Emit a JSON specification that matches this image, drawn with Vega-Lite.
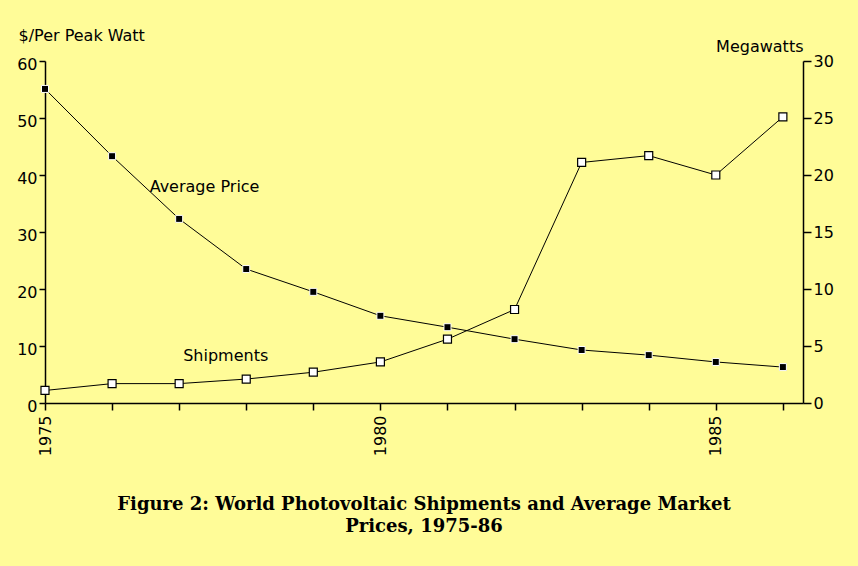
{
  "$schema": "https://vega.github.io/schema/vega-lite/v6.json",
  "width": 758,
  "height": 342,
  "autosize": {"type": "none"},
  "padding": {"left": 45, "top": 61, "right": 55, "bottom": 163},
  "background": "#FFFC98",
  "config": {
    "view": {"stroke": null},
    "font": "DejaVu Sans",
    "axis": {
      "domainColor": "black", "tickColor": "black", "labelColor": "black",
      "labelFont": "DejaVu Sans", "labelFontSize": 16, "grid": false,
      "domainWidth": 1.5, "tickWidth": 1.5,
      "titleFont": "DejaVu Sans", "titleFontWeight": "normal", "titleFontSize": 16, "titleColor": "black"
    }
  },
  "title": {
    "text": ["Figure 2: World Photovoltaic Shipments and Average Market", "Prices, 1975-86"],
    "orient": "bottom", "anchor": "middle", "font": "DejaVu Serif", "fontSize": 18,
    "fontWeight": "bold", "lineHeight": 22, "offset": 40, "color": "black"
  },
  "data": {"values": [
    {"year": 1975, "price": 55.1, "shipments": 1.1},
    {"year": 1976, "price": 43.3, "shipments": 1.7},
    {"year": 1977, "price": 32.3, "shipments": 1.7},
    {"year": 1978, "price": 23.5, "shipments": 2.1},
    {"year": 1979, "price": 19.5, "shipments": 2.7},
    {"year": 1980, "price": 15.3, "shipments": 3.6},
    {"year": 1981, "price": 13.3, "shipments": 5.6},
    {"year": 1982, "price": 11.2, "shipments": 8.2},
    {"year": 1983, "price": 9.3, "shipments": 21.1},
    {"year": 1984, "price": 8.4, "shipments": 21.7},
    {"year": 1985, "price": 7.2, "shipments": 20.0},
    {"year": 1986, "price": 6.3, "shipments": 25.1}
  ]},
  "encoding": {
    "x": {
      "field": "year", "type": "quantitative",
      "scale": {"domain": [1975, 1986.3], "nice": false, "zero": false},
      "axis": {
        "title": null, "values": [1975,1976,1977,1978,1979,1980,1981,1982,1983,1984,1985,1986],
        "labelExpr": "datum.value % 5 == 0 ? datum.value + '' : ''",
        "labelAngle": -90, "tickSize": 7, "labelPadding": 5, "labelFlush": false, "labelOverlap": false
      }
    }
  },
  "layer": [
    {
      "encoding": {
        "y": {
          "field": "price", "type": "quantitative",
          "scale": {"domain": [0, 60], "nice": false},
          "axis": {
            "orient": "left", "values": [0,10,20,30,40,50,60], "title": "$/Per Peak Watt",
            "titleAngle": 0, "titleX": -27, "titleY": -21, "titleAlign": "left", "titleBaseline": "alphabetic",
            "tickSize": 6, "labelPadding": 2, "labelOffset": 3, "labelBaseline": "middle"
          }
        }
      },
      "layer": [
        {"mark": {"type": "line", "color": "black", "strokeWidth": 1}},
        {"mark": {"type": "point", "shape": "square", "filled": true, "color": "black", "stroke": "white", "strokeWidth": 1, "size": 49, "opacity": 1}},
        {
          "data": {"values": [
            {"year": 1976.56, "price": 37.9, "label": "Average Price"},
            {"year": 1977.06, "price": 8.3, "label": "Shipments"}
          ]},
          "mark": {"type": "text", "align": "left", "baseline": "middle", "font": "DejaVu Sans", "fontSize": 16, "color": "black"},
          "encoding": {"text": {"field": "label"}}
        }
      ]
    },
    {
      "encoding": {
        "y": {
          "field": "shipments", "type": "quantitative",
          "scale": {"domain": [0, 30], "nice": false},
          "axis": {
            "orient": "right", "values": [0,5,10,15,20,25,30], "title": "Megawatts",
            "titleAngle": 0, "titleX": 0, "titleY": -15, "titleAlign": "right", "titleBaseline": "middle",
            "tickSize": 8, "labelPadding": 2, "labelBaseline": "middle"
          }
        }
      },
      "layer": [
        {"mark": {"type": "line", "color": "black", "strokeWidth": 1}},
        {"mark": {"type": "point", "shape": "square", "filled": true, "fill": "white", "stroke": "black", "strokeWidth": 1.2, "size": 64, "opacity": 1}}
      ]
    }
  ],
  "resolve": {"scale": {"y": "independent"}}
}
